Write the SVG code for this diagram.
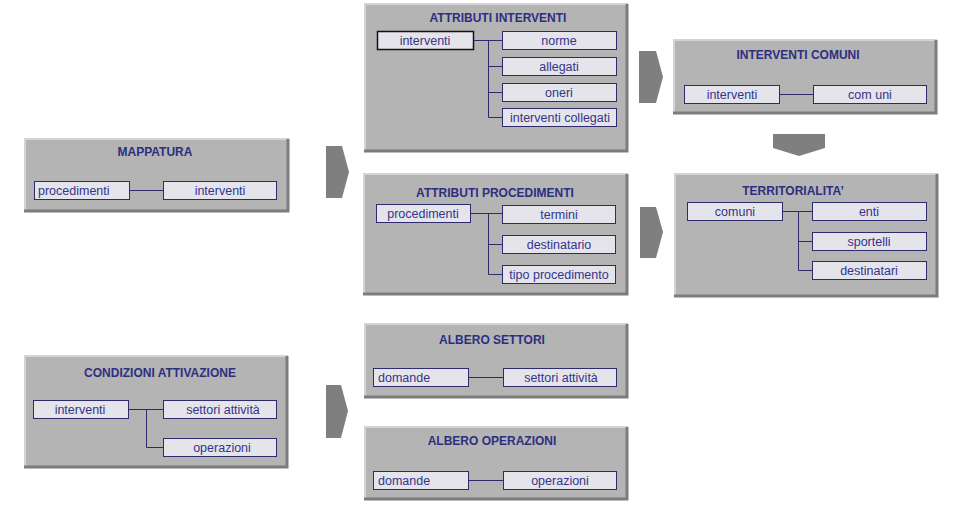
<svg xmlns="http://www.w3.org/2000/svg" width="957" height="514" viewBox="0 0 957 514">
<defs>
<style>
.panel{fill:#b4b4b4}
.hl{fill:none;stroke:#d4d4d4;stroke-width:2}
.sh{fill:none;stroke:#7c7c7c;stroke-width:3}
.title{font-family:"Liberation Sans",Arial,sans-serif;font-size:12px;font-weight:bold;fill:#2e2e80;text-anchor:middle}
.box{fill:#e4e4ea;stroke:#2c2c6a;stroke-width:1}
.sel{fill:#e4e4ea;stroke:#111111;stroke-width:1.5}
.lbl{font-family:"Liberation Sans",Arial,sans-serif;font-size:12.5px;fill:#34348a;text-anchor:middle}
.lft{text-anchor:start}
.con{fill:none;stroke:#2c2c6a;stroke-width:1}
.chev{fill:#7f7f7f}
</style>
</defs>
<rect width="957" height="514" fill="#ffffff"/>

<g id="panel-attributi-interventi">
<rect class="panel" x="364" y="3" width="264" height="149"/>
<polyline class="hl" points="365,152 365,4 628,4"/>
<polyline class="sh" points="627,4 627,151 364,151"/>
<text class="title" x="498" y="22">ATTRIBUTI INTERVENTI</text>
</g>
<g id="ai-interventi"><rect class="sel" x="377.5" y="31.5" width="96" height="18"/><text class="lbl" x="425" y="45">interventi</text></g>
<g id="ai-norme"><rect class="box" x="502.5" y="31.5" width="114" height="18"/><text class="lbl" x="559" y="45">norme</text></g>
<g id="ai-allegati"><rect class="box" x="502.5" y="57.5" width="114" height="18"/><text class="lbl" x="559" y="71">allegati</text></g>
<g id="ai-oneri"><rect class="box" x="502.5" y="83.5" width="114" height="18"/><text class="lbl" x="559" y="97">oneri</text></g>
<g id="ai-collegati"><rect class="box" x="502.5" y="108.5" width="114" height="18"/><text class="lbl" x="560" y="122">interventi collegati</text></g>

<g id="panel-mappatura">
<rect class="panel" x="24" y="138" width="265" height="74"/>
<polyline class="hl" points="25,212 25,139 289,139"/>
<polyline class="sh" points="288,139 288,211 24,211"/>
<text class="title" x="155" y="156">MAPPATURA</text>
</g>
<g id="m-procedimenti"><rect class="box" x="34.5" y="181.5" width="95" height="18"/><text class="lbl lft" x="38" y="195">procedimenti</text></g>
<g id="m-interventi"><rect class="box" x="163.5" y="181.5" width="113" height="18"/><text class="lbl" x="220" y="195">interventi</text></g>

<g id="panel-interventi-comuni">
<rect class="panel" x="673" y="39" width="264" height="75"/>
<polyline class="hl" points="674,114 674,40 937,40"/>
<polyline class="sh" points="936,40 936,113 673,113"/>
<text class="title" x="798" y="59">INTERVENTI COMUNI</text>
</g>
<g id="ic-interventi"><rect class="box" x="684.5" y="85.5" width="95" height="18"/><text class="lbl" x="732" y="99">interventi</text></g>
<g id="ic-comuni"><rect class="box" x="813.5" y="85.5" width="113" height="18"/><text class="lbl" x="870" y="99">com uni</text></g>

<g id="panel-attributi-procedimenti">
<rect class="panel" x="363" y="173" width="265" height="122"/>
<polyline class="hl" points="364,295 364,174 628,174"/>
<polyline class="sh" points="627,174 627,294 363,294"/>
<text class="title" x="495" y="197">ATTRIBUTI PROCEDIMENTI</text>
</g>
<g id="ap-procedimenti"><rect class="box" x="376.5" y="204.5" width="94" height="18"/><text class="lbl" x="423" y="218">procedimenti</text></g>
<g id="ap-termini"><rect class="box" x="502.5" y="205.5" width="113" height="18"/><text class="lbl" x="559" y="219">termini</text></g>
<g id="ap-destinatario"><rect class="box" x="502.5" y="235.5" width="113" height="18"/><text class="lbl" x="559" y="249">destinatario</text></g>
<g id="ap-tipo"><rect class="box" x="502.5" y="265.5" width="113" height="18"/><text class="lbl" x="559" y="279">tipo procedimento</text></g>

<g id="panel-territorialita">
<rect class="panel" x="674" y="173" width="264" height="124"/>
<polyline class="hl" points="675,297 675,174 938,174"/>
<polyline class="sh" points="937,174 937,296 674,296"/>
<text class="title" x="793" y="195">TERRITORIALITA’</text>
</g>
<g id="t-comuni"><rect class="box" x="687.5" y="202.5" width="95" height="18"/><text class="lbl" x="735" y="216">comuni</text></g>
<g id="t-enti"><rect class="box" x="812.5" y="202.5" width="114" height="18"/><text class="lbl" x="869" y="216">enti</text></g>
<g id="t-sportelli"><rect class="box" x="812.5" y="232.5" width="114" height="18"/><text class="lbl" x="869" y="246">sportelli</text></g>
<g id="t-destinatari"><rect class="box" x="812.5" y="261.5" width="114" height="18"/><text class="lbl" x="869" y="275">destinatari</text></g>

<g id="panel-condizioni-attivazione">
<rect class="panel" x="24" y="355" width="264" height="113"/>
<polyline class="hl" points="25,468 25,356 288,356"/>
<polyline class="sh" points="287,356 287,467 24,467"/>
<text class="title" x="160" y="377">CONDIZIONI ATTIVAZIONE</text>
</g>
<g id="ca-interventi"><rect class="box" x="33.5" y="400.5" width="95" height="18"/><text class="lbl" x="80" y="414">interventi</text></g>
<g id="ca-settori"><rect class="box" x="163.5" y="400.5" width="113" height="18"/><text class="lbl" x="223" y="414">settori attività</text></g>
<g id="ca-operazioni"><rect class="box" x="163.5" y="438.5" width="113" height="18"/><text class="lbl" x="222" y="452">operazioni</text></g>

<g id="panel-albero-settori">
<rect class="panel" x="364" y="323" width="264" height="75"/>
<polyline class="hl" points="365,398 365,324 628,324"/>
<polyline class="sh" points="627,324 627,397 364,397"/>
<text class="title" x="492" y="344">ALBERO SETTORI</text>
</g>
<g id="as-domande"><rect class="box" x="373.5" y="368.5" width="95" height="18"/><text class="lbl lft" x="378" y="382">domande</text></g>
<g id="as-settori"><rect class="box" x="503.5" y="368.5" width="113" height="18"/><text class="lbl" x="561" y="382">settori attività</text></g>

<g id="panel-albero-operazioni">
<rect class="panel" x="364" y="426" width="264" height="74"/>
<polyline class="hl" points="365,500 365,427 628,427"/>
<polyline class="sh" points="627,427 627,499 364,499"/>
<text class="title" x="492" y="445">ALBERO OPERAZIONI</text>
</g>
<g id="ao-domande"><rect class="box" x="373.5" y="471.5" width="95" height="18"/><text class="lbl lft" x="378" y="485">domande</text></g>
<g id="ao-operazioni"><rect class="box" x="503.5" y="471.5" width="113" height="18"/><text class="lbl" x="560" y="485">operazioni</text></g>

<g id="connectors">
<path class="con" d="M473.5,40.5 H502.5 M488.5,40.5 V117.5 M488.5,66.5 H502.5 M488.5,92.5 H502.5 M488.5,117.5 H502.5"/>
<path class="con" d="M129.5,190.5 H163.5"/>
<path class="con" d="M779.5,94.5 H813.5"/>
<path class="con" d="M470.5,213.5 H502.5 M488.5,213.5 V274.5 M488.5,244.5 H502.5 M488.5,274.5 H502.5"/>
<path class="con" d="M782.5,211.5 H812.5 M798.5,211.5 V270.5 M798.5,241.5 H812.5 M798.5,270.5 H812.5"/>
<path class="con" d="M128.5,409.5 H163.5 M146.5,409.5 V447.5 H163.5"/>
<path class="con" d="M468.5,377.5 H503.5"/>
<path class="con" d="M468.5,480.5 H503.5"/>
<g id="flow-arrows">
<polygon class="chev" points="326,146 342,146 349,172 342,198 326,198"/>
<polygon class="chev" points="639,51 656,51 663,77 656,103 639,103"/>
<polygon class="chev" points="640,207 656,207 663,232 656,258 640,258"/>
<polygon class="chev" points="326,385 341,385 348,411 341,438 326,438"/>
<polygon class="chev" points="773,134 825,134 825,148 799,156 773,148"/>
</g>
</g>
</svg>
